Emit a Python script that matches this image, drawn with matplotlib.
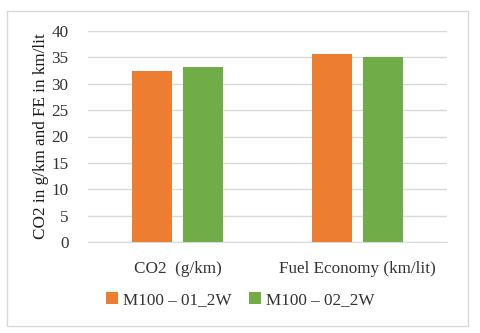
import numpy as np
import matplotlib.pyplot as plt
from matplotlib.patches import Rectangle

categories = ['CO2  (g/km)', 'Fuel Economy (km/lit)']
series_names = ['M100 \u2013 01_2W', 'M100 \u2013 02_2W']
m100_01 = [32.4, 35.7]
m100_02 = [33.2, 35.1]
colors = ['#ED7D31', '#70AD47']

plt.rcParams['font.family'] = ['Liberation Serif', 'DejaVu Serif']
plt.rcParams['font.size'] = 12.3

fig = plt.figure(figsize=(4.8, 3.33), dpi=100)
ax = fig.add_axes([88 / 480, 1 - 242 / 333, (447 - 88) / 480, (242 - 31) / 333])

x = np.arange(len(categories))
w = 0.223
gap = 0.061
off = (w + gap) / 2
ax.bar(x - off, m100_01, width=w, color=colors[0], label=series_names[0], zorder=3)
ax.bar(x + off, m100_02, width=w, color=colors[1], label=series_names[1], zorder=3)

ax.set_xlim(-0.5, 1.5)
ax.set_ylim(0, 40)
ax.set_yticks(range(0, 41, 5))
ax.set_xticks(x)
ax.set_xticklabels(categories)
ax.tick_params(axis='both', length=0, colors='#333333')
ax.tick_params(axis='x', pad=14)
ax.tick_params(axis='y', pad=14)
ax.grid(axis='y', color='#d9d9d9', linewidth=1, zorder=0)
for s in ['top', 'right', 'left']:
    ax.spines[s].set_visible(False)
ax.spines['bottom'].set_color('#d9d9d9')
ax.set_ylabel('CO2 in g/km and FE in km/lit', color='#1a1a1a', labelpad=2)

leg = ax.legend(loc='center', bbox_to_anchor=(0.5, 1 - 300 / 333), bbox_transform=fig.transFigure,
                ncol=2, frameon=False, handlelength=0.7, handleheight=0.7,
                handletextpad=0.3, columnspacing=1.0)
for t in leg.get_texts():
    t.set_color('#333333')

fig.patches.append(Rectangle((7 / 480, 1 - 326 / 333), (468 - 7) / 480, (326 - 11) / 333,
                             transform=fig.transFigure, fill=False, edgecolor='#d9d9d9', linewidth=1))

fig.savefig('out.png', dpi=100)
